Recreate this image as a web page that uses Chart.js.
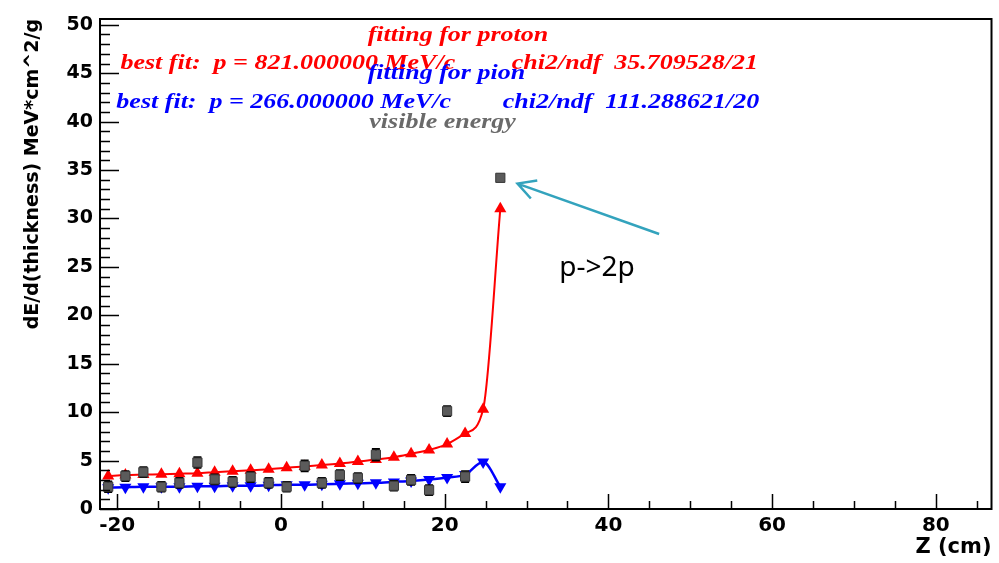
<!DOCTYPE html>
<html>
<head>
<meta charset="utf-8">
<script src="https://cdn.jsdelivr.net/npm/chart.js@4.4.1/dist/chart.umd.min.js"></script>
<style>
  html, body { margin: 0; padding: 0; background: #fff; }
</style>
</head>
<body>
<canvas id="chart" width="999" height="563"></canvas>
<script>
  // Data
  const zFit = [-21.1, -19.0, -16.8, -14.6, -12.4, -10.2, -8.1, -5.9, -3.7, -1.5, 0.7, 2.9, 5.0, 7.2, 9.4, 11.6, 13.8, 15.9, 18.1, 20.3, 22.5, 24.7, 26.8];
  const protonFit = [3.4, 3.5, 3.55, 3.6, 3.65, 3.7, 3.8, 3.9, 4.0, 4.1, 4.25, 4.4, 4.55, 4.7, 4.9, 5.1, 5.35, 5.7, 6.1, 6.7, 7.8, 10.3, 31.0];
  const pionFit = [2.2, 2.25, 2.3, 2.3, 2.3, 2.35, 2.35, 2.4, 2.4, 2.45, 2.5, 2.5, 2.55, 2.6, 2.65, 2.7, 2.8, 2.9, 3.05, 3.25, 3.55, 4.85, 2.3];
  const zVis = [-21.1, -19.0, -16.8, -14.6, -12.4, -10.2, -8.1, -5.9, -3.7, -1.5, 0.7, 2.9, 5.0, 7.2, 9.4, 11.6, 13.8, 15.9, 18.1, 20.3, 22.5, 26.8];
  const visY = [2.3, 3.4, 3.8, 2.3, 2.7, 4.8, 3.05, 2.8, 3.3, 2.7, 2.3, 4.45, 2.7, 3.5, 3.2, 5.6, 2.4, 3.0, 1.95, 10.1, 3.35, 34.2];
  const visErr = [0.55, 0.5, 0.5, 0.5, 0.5, 0.55, 0.5, 0.5, 0.5, 0.5, 0.5, 0.55, 0.5, 0.5, 0.5, 0.6, 0.5, 0.5, 0.5, 0.5, 0.55, 0.35];

  const xTicks = [-20, 0, 20, 40, 60, 80];
  const yTicks = [0, 5, 10, 15, 20, 25, 30, 35, 40, 45, 50];

  const toPoints = (xs, ys) => xs.map((x, i) => ({ x: x, y: ys[i] }));

  const boldSans = '"DejaVu Sans", "Liberation Sans", sans-serif';

  // text boxes, placed in axis units like the ROOT panes
  const notes = [
    { text: 'fitting for proton', x: 10.6, y: 48.9, color: '#ff0000' },
    { text: 'best fit:  p = 821.000000 MeV/c', x: -19.6, y: 46.0, color: '#ff0000' },
    { text: 'chi2/ndf  35.709528/21', x: 28.2, y: 46.0, color: '#ff0000' },
    { text: 'fitting for pion', x: 10.6, y: 44.9, color: '#0000ff' },
    { text: 'best fit:  p = 266.000000 MeV/c', x: -20.1, y: 41.9, color: '#0000ff' },
    { text: 'chi2/ndf  111.288621/20', x: 27.1, y: 41.9, color: '#0000ff' },
    { text: 'visible energy', x: 10.8, y: 39.9, color: '#6a6a6a' }
  ];
  const arrow = { from: [46.2, 28.4], to: [28.9, 33.6], color: '#33a3bd' };
  const arrowLabel = { text: 'p->2p', x: 34.0, y: 24.9 };

  // error bars for the visible energy points
  const errorBars = {
    id: 'errorBars',
    beforeDatasetDraw(chart, args) {
      if (args.index !== 0) return;
      const { ctx, scales: { y } } = chart;
      ctx.save();
      ctx.strokeStyle = '#000';
      ctx.lineWidth = 2;
      args.meta.data.forEach((pt, i) => {
        const top = y.getPixelForValue(visY[i] + visErr[i]);
        const bot = y.getPixelForValue(visY[i] - visErr[i]);
        ctx.beginPath();
        ctx.moveTo(pt.x, top); ctx.lineTo(pt.x, bot);
        ctx.moveTo(pt.x - 4, top); ctx.lineTo(pt.x + 4, top);
        ctx.moveTo(pt.x - 4, bot); ctx.lineTo(pt.x + 4, bot);
        ctx.stroke();
      });
      ctx.restore();
    }
  };

  // frame, inside ticks, text and arrow
  const decorations = {
    id: 'decorations',
    afterDraw(chart) {
      const { ctx, chartArea: a, scales: { x, y } } = chart;
      ctx.save();
      ctx.strokeStyle = '#000';
      ctx.lineWidth = 1.5;
      ctx.beginPath();
      for (let v = 0; v <= 50; v += 1) {
        const py = Math.round(y.getPixelForValue(v)) + 0.5;
        const len = v % 5 === 0 ? 19 : 10;
        ctx.moveTo(a.left, py); ctx.lineTo(a.left + len, py);
      }
      for (let v = -20; v <= 85; v += 5) {
        const px = Math.round(x.getPixelForValue(v)) + 0.5;
        const len = v % 20 === 0 ? 15 : 8;
        ctx.moveTo(px, a.bottom); ctx.lineTo(px, a.bottom - len);
      }
      ctx.stroke();
      ctx.lineWidth = 2;
      ctx.strokeRect(a.left, a.top, a.right - a.left, a.bottom - a.top);

      // notes (stretched serif like the original)
      ctx.font = 'bold italic 20px "Liberation Serif", "Times New Roman", serif';
      ctx.textBaseline = 'middle';
      ctx.textAlign = 'left';
      notes.forEach(n => {
        ctx.save();
        ctx.translate(x.getPixelForValue(n.x), y.getPixelForValue(n.y));
        ctx.scale(1.3, 1);
        ctx.fillStyle = n.color;
        ctx.fillText(n.text, 0, 0);
        ctx.restore();
      });

      // arrow
      const x0 = x.getPixelForValue(arrow.from[0]), y0 = y.getPixelForValue(arrow.from[1]);
      const x1 = x.getPixelForValue(arrow.to[0]), y1 = y.getPixelForValue(arrow.to[1]);
      const ang = Math.atan2(y0 - y1, x0 - x1);
      ctx.strokeStyle = arrow.color;
      ctx.lineWidth = 2.5;
      ctx.beginPath();
      ctx.moveTo(x0, y0); ctx.lineTo(x1, y1);
      ctx.moveTo(x1 + 20 * Math.cos(ang - 0.5), y1 + 20 * Math.sin(ang - 0.5));
      ctx.lineTo(x1, y1);
      ctx.lineTo(x1 + 20 * Math.cos(ang + 0.5), y1 + 20 * Math.sin(ang + 0.5));
      ctx.stroke();

      ctx.fillStyle = '#000';
      ctx.font = '28px "Noto Sans", "Open Sans", sans-serif';
      ctx.textAlign = 'left';
      ctx.fillText(arrowLabel.text, x.getPixelForValue(arrowLabel.x), y.getPixelForValue(arrowLabel.y));
      ctx.restore();
    }
  };

  const ctx = document.getElementById('chart').getContext('2d');
  const chart = new Chart(ctx, {
    type: 'scatter',
    data: {
      datasets: [
        {
          label: 'visible energy',
          data: toPoints(zVis, visY),
          pointStyle: 'rect',
          pointRadius: 6.5,
          backgroundColor: '#5b5b5b',
          borderColor: '#3a3a3a',
          borderWidth: 1,
          showLine: false,
          order: 0
        },
        {
          label: 'fitting for proton',
          data: toPoints(zFit, protonFit),
          pointStyle: 'triangle',
          pointRadius: 7,
          backgroundColor: '#ff0000',
          borderColor: '#ff0000',
          borderWidth: 2,
          pointBorderWidth: 0,
          showLine: true,
          cubicInterpolationMode: 'monotone',
          order: 1
        },
        {
          label: 'fitting for pion',
          data: toPoints(zFit, pionFit),
          pointStyle: 'triangle',
          pointRotation: 180,
          pointRadius: 7,
          backgroundColor: '#0000ff',
          borderColor: '#0000ff',
          borderWidth: 2.5,
          pointBorderWidth: 0,
          showLine: true,
          cubicInterpolationMode: 'monotone',
          order: 2
        }
      ]
    },
    options: {
      responsive: false,
      animation: false,
      layout: { padding: { top: 19, right: 6, left: 0, bottom: 0 } },
      plugins: { legend: { display: false }, tooltip: { enabled: false } },
      scales: {
        x: {
          type: 'linear',
          min: -22.1,
          max: 86.8,
          afterBuildTicks: s => { s.ticks = xTicks.map(v => ({ value: v })); },
          afterFit: s => { s.height = 54; },
          grid: { display: false, drawTicks: false },
          border: { display: false },
          ticks: {
            color: '#000',
            padding: 5,
            maxRotation: 0,
            font: { family: boldSans, weight: 'bold', size: 20 }
          },
          title: {
            display: true,
            text: 'Z (cm)',
            align: 'end',
            color: '#000',
            padding: { top: 0, bottom: 3 },
            font: { family: boldSans, weight: 'bold', size: 21 }
          }
        },
        y: {
          type: 'linear',
          min: 0,
          max: 50.6,
          afterBuildTicks: s => { s.ticks = yTicks.map(v => ({ value: v })); },
          afterFit: s => { s.width = 100; },
          grid: { display: false, drawTicks: false },
          border: { display: false },
          ticks: {
            color: '#000',
            padding: 7,
            font: { family: boldSans, weight: 'bold', size: 19 }
          },
          title: {
            display: true,
            text: 'dE/d(thickness) MeV*cm^2/g',
            align: 'end',
            color: '#000',
            padding: { top: 22, bottom: 0 },
            font: { family: boldSans, weight: 'bold', size: 19 }
          }
        }
      }
    },
    plugins: [errorBars, decorations]
  });
</script>
</body>
</html>
